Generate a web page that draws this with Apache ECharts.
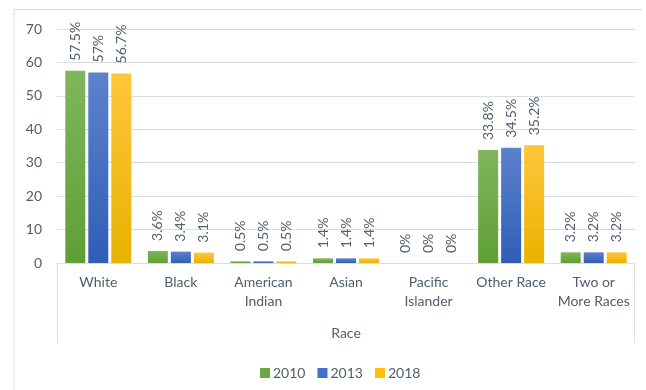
<!DOCTYPE html>
<html>
<head>
<meta charset="utf-8">
<script src="https://cdn.jsdelivr.net/npm/echarts@6/dist/echarts.min.js"></script>
<style>
  html, body { margin: 0; padding: 0; background: #fff; }
  #chart { width: 646px; height: 390px; }
</style>
</head>
<body>
<div id="chart"></div>
<script>
// Population share by race, three census years
const categories = ['White', 'Black', 'American\nIndian', 'Asian', 'Pacific\nIslander', 'Other Race', 'Two or\nMore Races'];
const years = ['2010', '2013', '2018'];
const values2010 = [57.5, 3.6, 0.5, 1.4, 0, 33.8, 3.2];
const values2013 = [57, 3.4, 0.5, 1.4, 0, 34.5, 3.2];
const values2018 = [56.7, 3.1, 0.5, 1.4, 0, 35.2, 3.2];
const yTicks = { min: 0, max: 70, interval: 10 };

const FONT = 'Lato';
const TEXT = '#525d6d';
const LINE = '#dadde3';

function grad(top, bottom) {
  return new echarts.graphic.LinearGradient(0, 0, 0, 1, [
    { offset: 0, color: top },
    { offset: 1, color: bottom }
  ]);
}

const palette = [
  { legend: '#6aa842', fill: grad('#80b65e', '#5f9f34') },
  { legend: '#4270c4', fill: grad('#5d82cc', '#2f5eb6') },
  { legend: '#ffc000', fill: grad('#ffc63c', '#e8b200') }
];

const seriesValues = [values2010, values2013, values2018];

const chart = echarts.init(document.getElementById('chart'), null, { renderer: 'canvas' });

chart.setOption({
  animation: false,
  textStyle: { fontFamily: FONT },
  grid: { left: 57, right: 11, top: 29, bottom: 127, containLabel: false },
  legend: {
    data: years.map((y, i) => ({ name: y, itemStyle: { color: palette[i].legend } })),
    top: 361,
    left: 255,
    itemWidth: 10,
    itemHeight: 10,
    itemGap: 12,
    icon: 'rect',
    textStyle: { color: TEXT, fontSize: 14, fontFamily: FONT, padding: [0, 0, 0, -2] }
  },
  xAxis: {
    type: 'category',
    data: categories,
    name: 'Race',
    nameLocation: 'middle',
    nameGap: 63,
    nameTextStyle: { color: TEXT, fontSize: 14, fontFamily: FONT },
    axisLine: { lineStyle: { color: LINE, width: 1 } },
    axisTick: { show: false },
    axisLabel: {
      color: TEXT, fontSize: 14, fontFamily: FONT,
      margin: 10, lineHeight: 19, interval: 0
    }
  },
  yAxis: {
    type: 'value',
    min: yTicks.min,
    max: yTicks.max,
    interval: yTicks.interval,
    axisLine: { show: false },
    axisTick: { show: false },
    axisLabel: { color: TEXT, fontSize: 14, fontFamily: FONT, margin: 15 },
    splitLine: { lineStyle: { color: LINE, width: 1 } }
  },
  graphic: [
    // outer frame (left and top edges)
    { type: 'polyline', shape: { points: [[14, 390], [14, 9.5], [642, 9.5]] },
      style: { stroke: LINE, fill: null, lineWidth: 1 }, silent: true },
    // frame around category labels
    { type: 'polyline', shape: { points: [[57.5, 263], [57.5, 343]] },
      style: { stroke: LINE, fill: null, lineWidth: 1 }, silent: true },
    { type: 'polyline', shape: { points: [[634.5, 263], [634.5, 343]] },
      style: { stroke: LINE, fill: null, lineWidth: 1 }, silent: true }
  ],
  series: years.map((y, i) => ({
    name: y,
    type: 'bar',
    data: seriesValues[i],
    barWidth: 20,
    barGap: '15%',
    itemStyle: { color: palette[i].fill },
    label: {
      show: true,
      position: 'top',
      rotate: 90,
      align: 'left',
      verticalAlign: 'middle',
      distance: 10,
      color: TEXT,
      fontSize: 14,
      fontFamily: FONT,
      formatter: p => p.value + '%'
    }
  }))
});
</script>
</body>
</html>
